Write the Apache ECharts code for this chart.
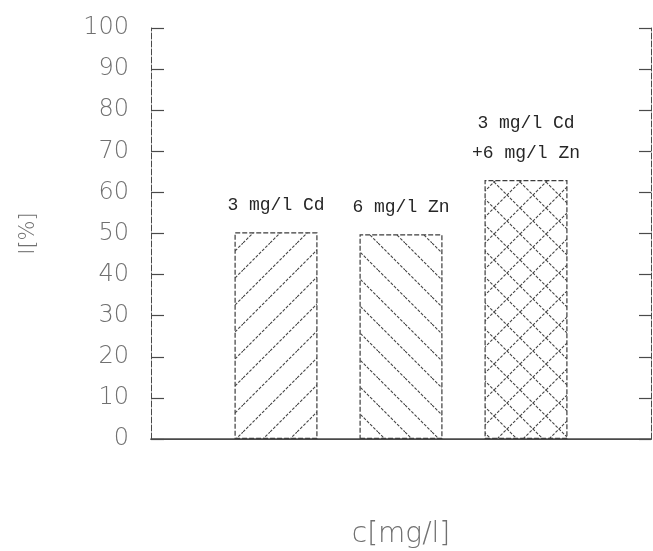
<!DOCTYPE html>
<html>
<head>
<meta charset="utf-8">
<script src="https://cdn.jsdelivr.net/npm/echarts@6/dist/echarts.min.js"></script>
<style>
  html, body { margin: 0; padding: 0; background: #fff; }
  #chart { width: 653px; height: 551px; }
</style>
</head>
<body>
<div id="chart"></div>
<script>
// Slots along the x axis; the first and last are empty padding positions.
const categories = ['', '3 mg/l Cd', '6 mg/l Zn', '3 mg/l Cd\n+6 mg/l Zn', ''];
// Inhibition I [%] per treatment
const values = [null, 50.3, 49.8, 63, null];
// Fill style per bar
const hatches = [null, 'forward', 'backward', 'cross', null];
// Y axis scale
const yMin = 0;
const yMax = 100;
const yStep = 10;

// Build a repeating hatch tile on a canvas
function hatchPattern(kind, size) {
  const c = document.createElement('canvas');
  c.width = size;
  c.height = size;
  const g = c.getContext('2d');
  g.strokeStyle = '#444444';
  g.lineWidth = 1.1;
  g.setLineDash([3, 1.5]);
  const seg = (x1, y1, x2, y2) => { g.beginPath(); g.moveTo(x1, y1); g.lineTo(x2, y2); g.stroke(); };
  const fwd = () => {
    seg(0, size, size, 0);
    seg(-3, 3, 3, -3);
    seg(size - 3, size + 3, size + 3, size - 3);
  };
  const back = () => {
    seg(0, 0, size, size);
    seg(-3, size - 3, 3, size + 3);
    seg(size - 3, -3, size + 3, 3);
  };
  if (kind === 'forward') fwd();
  else if (kind === 'backward') back();
  else { fwd(); back(); }
  return { image: c, repeat: 'repeat' };
}

const tileSize = { forward: 27, backward: 27, cross: 26 };

const barData = values.map((v, i) => {
  if (v === null) return null;
  return {
    value: v,
    itemStyle: { color: hatchPattern(hatches[i], tileSize[hatches[i]]) }
  };
});

const axisGrey = '#4a4a4a';
const textGrey = '#707070';

const chart = echarts.init(document.getElementById('chart'), null, { renderer: 'canvas' });
chart.setOption({
  animation: false,
  backgroundColor: '#ffffff',
  grid: { left: 151, right: 2, top: 28, bottom: 112, containLabel: false, outerBoundsMode: 'none' },
  xAxis: [
    {
      type: 'category',
      data: categories,
      boundaryGap: false,
      axisLine: { lineStyle: { color: axisGrey, width: 1.5 } },
      axisTick: { show: false },
      axisLabel: { show: false },
      splitLine: { show: false },
      name: 'c[mg/l]',
      nameLocation: 'middle',
      nameGap: 82,
      nameTextStyle: { fontFamily: 'DejaVu Sans', fontSize: 28, fontWeight: 200, color: textGrey }
    },
    {
      type: 'category',
      data: categories,
      position: 'top',
      boundaryGap: false,
      axisLine: { lineStyle: { color: axisGrey, width: 1.2 } },
      axisTick: { show: false },
      axisLabel: { show: false },
      splitLine: { show: false }
    }
  ],
  yAxis: [
    {
      type: 'value',
      min: yMin,
      max: yMax,
      interval: yStep,
      position: 'left',
      axisLine: { show: true, lineStyle: { color: axisGrey, width: 1, type: [6, 2] } },
      axisTick: { show: true, inside: true, length: 13, lineStyle: { color: axisGrey, width: 1.2 } },
      axisLabel: { margin: 22, fontFamily: 'DejaVu Sans', fontSize: 24, fontWeight: 200, color: textGrey },
      splitLine: { show: false },
      name: 'I[%]',
      nameLocation: 'middle',
      nameGap: 112,
      nameTextStyle: { fontFamily: 'DejaVu Sans', fontSize: 21, fontWeight: 200, color: textGrey }
    },
    {
      type: 'value',
      min: yMin,
      max: yMax,
      interval: yStep,
      position: 'right',
      axisLine: { show: true, lineStyle: { color: axisGrey, width: 1, type: [6, 2] } },
      axisTick: { show: true, inside: true, length: 12, lineStyle: { color: axisGrey, width: 1.2 } },
      axisLabel: { show: false },
      splitLine: { show: false }
    }
  ],
  series: [
    {
      type: 'bar',
      xAxisIndex: 0,
      yAxisIndex: 0,
      data: barData,
      barWidth: 83,
      itemStyle: { borderColor: '#3d3d3d', borderWidth: 1.2, borderType: [5, 2] },
      label: {
        show: true,
        position: 'top',
        distance: 12,
        formatter: p => categories[p.dataIndex],
        fontFamily: 'Liberation Mono',
        fontSize: 18,
        lineHeight: 30,
        color: '#262626'
      }
    }
  ]
});
</script>
</body>
</html>
